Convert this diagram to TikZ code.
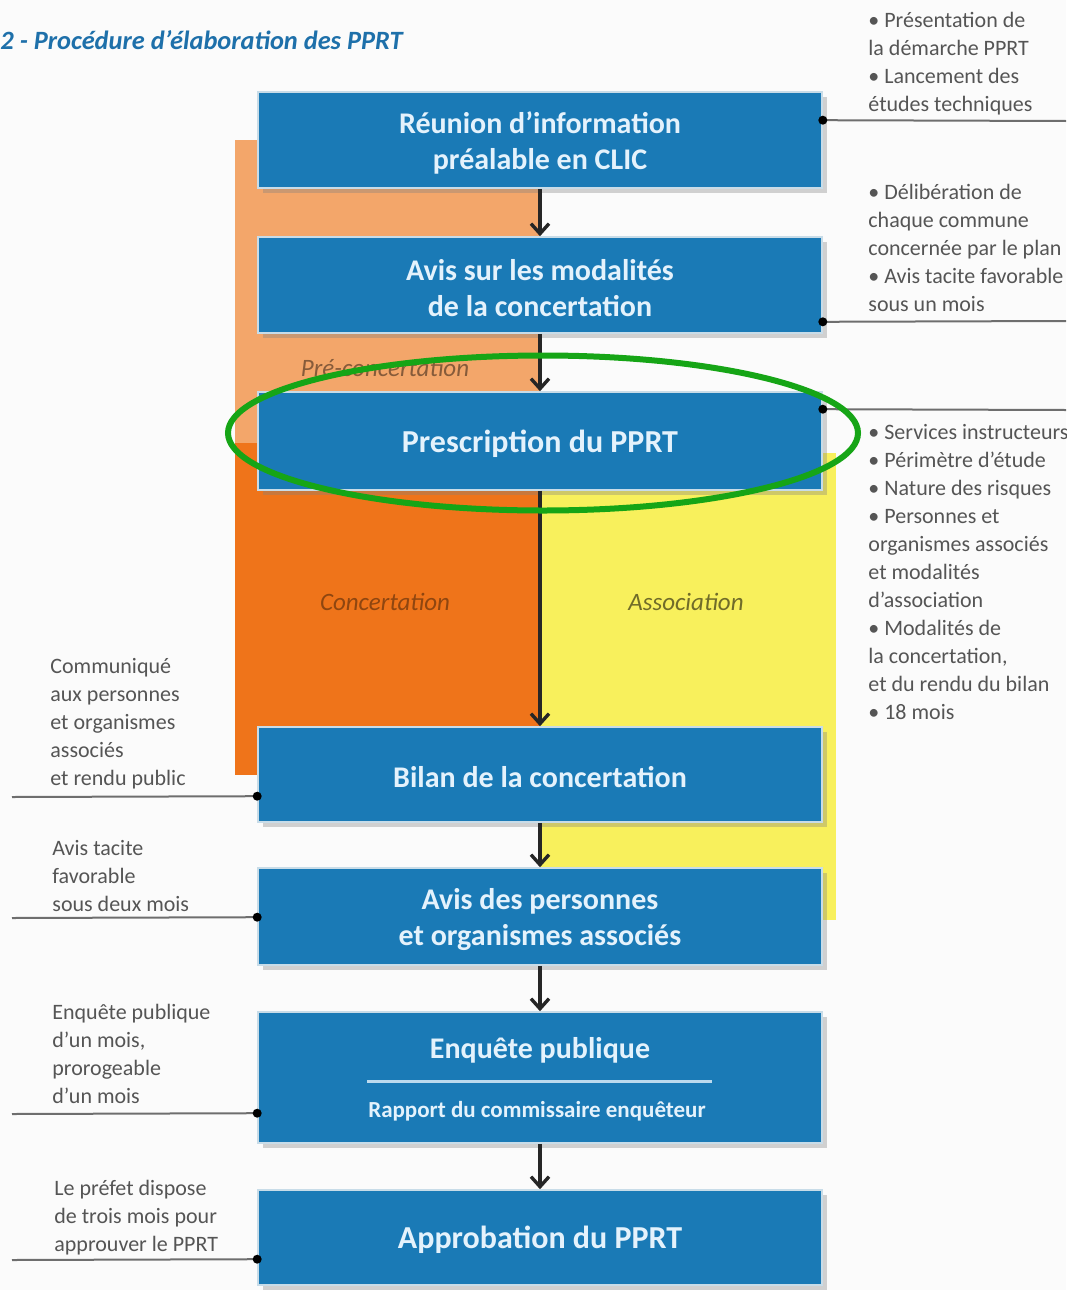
\documentclass[tikz,border=0pt]{standalone}
\usepackage{fontspec}
\setmainfont{Carlito}
\usetikzlibrary{arrows.meta,shadows,calc,shapes.geometric}
\definecolor{boxblue}{RGB}{26,122,182}
\definecolor{boxedge}{RGB}{200,220,232}
\definecolor{boxtext}{RGB}{228,242,252}
\definecolor{titleblue}{RGB}{30,112,170}
\definecolor{annotgray}{RGB}{85,85,85}
\definecolor{linegray}{RGB}{110,110,110}
\definecolor{lightorange}{RGB}{243,166,106}
\definecolor{darkorange}{RGB}{239,116,26}
\definecolor{yellowreg}{RGB}{248,240,92}
\definecolor{ringgreen}{RGB}{22,165,22}
\definecolor{bg}{RGB}{251,251,251}
\begin{document}
\begin{tikzpicture}[x=0.5pt,y=-0.5pt,
  box/.style={fill=boxblue, draw=boxedge, line width=0.8pt, minimum width=282pt,
    drop shadow={shadow xshift=2.5pt, shadow yshift=-2.5pt, opacity=0.35}},
  boxlabel/.style={text=boxtext, font=\bfseries\fontsize{15}{18}\selectfont, align=center, inner sep=0pt},
  biglabel/.style={boxlabel, font=\bfseries\fontsize{16}{19}\selectfont},
  flow/.style={line width=1.7pt, draw=black!85, -{Straight Barb[length=5pt,width=9pt,line width=1.7pt]}},
  annot/.style={font=\fontsize{11}{14}\selectfont, text=annotgray, align=left, inner sep=0pt},
  tick/.style={draw=linegray, line width=1pt},
  dotc/.style={circle, fill=black, inner sep=0pt, minimum size=4.5pt},
  region/.style={font=\itshape\fontsize{12.5}{15}\selectfont, inner sep=0pt}
]
\useasboundingbox (0,0) rectangle (1066,1290);
\fill[bg] (0,0) rectangle (1066,1290);

% title
\node[anchor=west, inner sep=0pt, text=titleblue, font=\bfseries\itshape\fontsize{13.2}{16}\selectfont] (title) at (0,40) {2 - Procédure d’élaboration des PPRT};

% phase regions
\fill[lightorange] (235,140) rectangle (540,443);
\fill[darkorange] (235,443) rectangle (540,775);
\fill[yellowreg] (540,453) rectangle (836,920);

\node[region, text=black!45!lightorange] (pre) at (385,368) {Pré-concertation};
\node[region, text=black!40!darkorange] (conc) at (385,602) {Concertation};
\node[region, text=black!55!yellowreg] (assoc) at (686,602) {Association};

% boxes
\node[box, minimum height=48pt] (b1) at (540,140) {};
\node[box, minimum height=48pt] (b2) at (540,285) {};
\node[box, minimum height=49pt] (b3) at (540,441) {};
\node[box, minimum height=47.5pt] (b4) at (540,774.5) {};
\node[box, minimum height=48.5pt] (b5) at (540,916.5) {};
\node[box, minimum height=65.5pt] (b6) at (540,1077.5) {};
\node[box, minimum height=47.5pt] (b7) at (540,1237.5) {};

\node[boxlabel] (t1) at ($(b1.center)+(0,3)$) {Réunion d’information\\préalable en CLIC};
\node[boxlabel] (t2) at ($(b2.center)+(0,3)$) {Avis sur les modalités\\de la concertation};
\node[biglabel] (t3) at ($(b3.center)+(0,3)$) {Prescription du PPRT};
\node[boxlabel] (t4) at ($(b4.center)+(0,3)$) {Bilan de la concertation};
\node[boxlabel] (t5) at ($(b5.center)+(0,3)$) {Avis des personnes\\et organismes associés};
\node[biglabel] (t7) at ($(b7.center)+(0,2)$) {Approbation du PPRT};

\node[boxlabel] (b6a) at (540,1050) {Enquête publique};
\node[boxlabel, font=\bfseries\fontsize{11.5}{14}\selectfont] (b6b) at (537,1111) {Rapport du commissaire enquêteur};
\coordinate (s1) at (367,1081);
\coordinate (s2) at (712,1081);
\draw[line width=1.5pt, draw=boxtext!80!boxblue] (s1) -- (s2);

% flow arrows
\draw[flow] (b1.south) -- (b2.north);
\draw[flow] (b2.south) -- (b3.north);
\draw[flow] (b3.south) -- (b4.north);
\draw[flow] (b4.south) -- (b5.north);
\draw[flow] (b5.south) -- (b6.north);
\draw[flow] (b6.south) -- (b7.north);

% right annotation lines
\coordinate (r1) at ($(b1.north east)+(0,29)$);
\coordinate (r2) at ($(b2.south east)+(0,-12)$);
\coordinate (r3) at ($(b3.north east)+(0,18)$);
\coordinate (re1) at (1066,121);
\coordinate (re2) at (1066,321);
\coordinate (re3) at (1066,410);
\draw[tick] (r1) -- (re1);
\draw[tick] (r2) -- (re2);
\draw[tick] (r3) -- (re3);
\node[dotc] at (r1) {};
\node[dotc] at (r2) {};
\node[dotc] at (r3) {};

% left annotation lines
\coordinate (l4) at ($(b4.north west)+(0,70)$);
\coordinate (l5) at ($(b5.north west)+(0,50)$);
\coordinate (l6) at ($(b6.north west)+(0,102)$);
\coordinate (l7) at ($(b7.north west)+(0,70)$);
\coordinate (le4) at (12,797);
\coordinate (le5) at (12,918);
\coordinate (le6) at (12,1114);
\coordinate (le7) at (12,1260);
\draw[tick] (le4) -- (l4);
\draw[tick] (le5) -- (l5);
\draw[tick] (le6) -- (l6);
\draw[tick] (le7) -- (l7);
\node[dotc] at (l4) {};
\node[dotc] at (l5) {};
\node[dotc] at (l6) {};
\node[dotc] at (l7) {};

% right annotations
\node[annot, anchor=north west] (n1) at (868,12) {• Présentation de\\la démarche PPRT\\• Lancement des\\études techniques};
\node[annot, anchor=north west] (n2) at (868,184) {• Délibération de\\chaque commune\\concernée par le plan\\• Avis tacite favorable\\sous un mois};
\node[annot, anchor=north west] (n3) at (868,424) {• Services instructeurs\\• Périmètre d’étude\\• Nature des risques\\• Personnes et\\organismes associés\\et modalités\\d’association\\• Modalités de\\la concertation,\\et du rendu du bilan\\• 18 mois};

% left annotations
\node[annot, anchor=north west] (n4) at (50,658) {Communiqué\\aux personnes\\et organismes\\associés\\et rendu public};
\node[annot, anchor=north west] (n5) at (52,840) {Avis tacite\\favorable\\sous deux mois};
\node[annot, anchor=north west] (n6) at (52,1004) {Enquête publique\\d’un mois,\\prorogeable\\d’un mois};
\node[annot, anchor=north west] (n7) at (54,1180) {Le préfet dispose\\de trois mois pour\\approuver le PPRT};

% highlight ellipse
\node[draw=ringgreen, line width=3pt, ellipse, minimum width=315pt, minimum height=77.5pt, inner sep=0pt] (ring) at (543,433) {};
\end{tikzpicture}
\end{document}
